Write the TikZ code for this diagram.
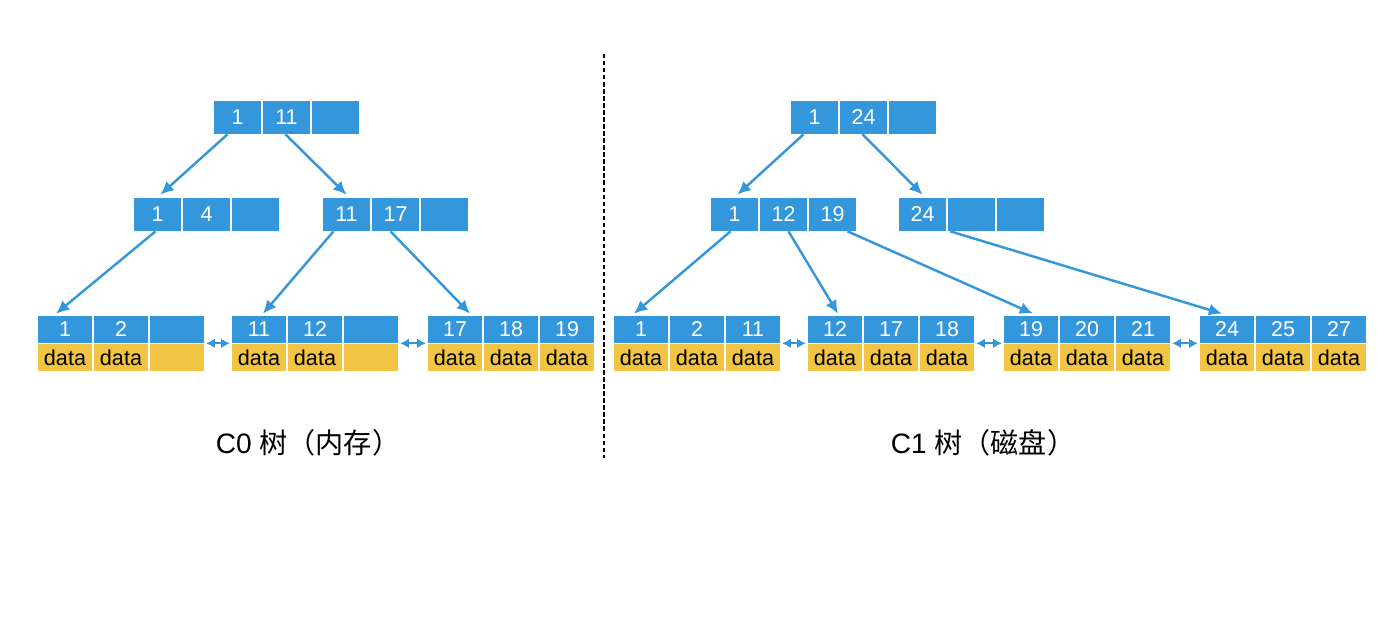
\documentclass[tikz,border=0pt]{standalone}
\usepackage{fontspec}
\setmainfont{Liberation Sans}
\newfontfamily\cjkfont{Noto Sans CJK SC}
\usepackage{xcolor}
\usetikzlibrary{arrows.meta, calc}
\definecolor{keyblue}{HTML}{3597DB}
\definecolor{datayellow}{HTML}{F2C443}

\begin{document}
\begin{tikzpicture}[
    x=0.02cm, y=-0.02cm,
    inner cell/.style={fill=keyblue, text=white, minimum width=0.94cm, minimum height=0.66cm, inner sep=0pt, font=\fontsize{12.2}{14}\selectfont},
    leaf key/.style={fill=keyblue, text=white, minimum width=1.08cm, minimum height=0.54cm, inner sep=0pt, font=\fontsize{12.2}{14}\selectfont},
    leaf data/.style={fill=datayellow, text=black, minimum width=1.08cm, minimum height=0.54cm, inner sep=0pt, font=\fontsize{12.3}{14}\selectfont},
    tree arrow/.style={draw=keyblue, line width=1.4pt, -{Latex[length=7.5pt,width=7pt]}},
    leaf link/.style={draw=keyblue, line width=1.3pt, {Latex[length=5pt,width=5.5pt]}-{Latex[length=5pt,width=5.5pt]}, shorten <=1pt, shorten >=1pt},
    separator/.style={draw=black, line width=1.1pt, dash pattern=on 2.5pt off 1.5pt},
    tree label/.style={font=\fontsize{16}{19}\selectfont}
]
    \useasboundingbox (0,0) rectangle (1400,628);

    % C0 - raiz
    \node[inner cell] (mr1) at (237.5,117.5) {1};
    \node[inner cell] (mr2) at (286.5,117.5) {11};
    \node[inner cell] (mr3) at (335.5,117.5) {};

    % C0 - nivel 1
    \node[inner cell] (mi1) at (157.5,214.5) {1};
    \node[inner cell] (mi2) at (206.5,214.5) {4};
    \node[inner cell] (mi3) at (255.5,214.5) {};
    \node[inner cell] (mj1) at (346.5,214.5) {11};
    \node[inner cell] (mj2) at (395.5,214.5) {17};
    \node[inner cell] (mj3) at (444.5,214.5) {};

    % C0 - hojas
    \node[leaf key] (mak1) at (65,329.5) {1};
    \node[leaf key] (mak2) at (121,329.5) {2};
    \node[leaf key] (mak3) at (177,329.5) {};
    \node[leaf data] (mad1) at (65,357.5) {data};
    \node[leaf data] (mad2) at (121,357.5) {data};
    \node[leaf data] (mad3) at (177,357.5) {};

    \node[leaf key] (mbk1) at (259,329.5) {11};
    \node[leaf key] (mbk2) at (315,329.5) {12};
    \node[leaf key] (mbk3) at (371,329.5) {};
    \node[leaf data] (mbd1) at (259,357.5) {data};
    \node[leaf data] (mbd2) at (315,357.5) {data};
    \node[leaf data] (mbd3) at (371,357.5) {};

    \node[leaf key] (mck1) at (455,329.5) {17};
    \node[leaf key] (mck2) at (511,329.5) {18};
    \node[leaf key] (mck3) at (567,329.5) {19};
    \node[leaf data] (mcd1) at (455,357.5) {data};
    \node[leaf data] (mcd2) at (511,357.5) {data};
    \node[leaf data] (mcd3) at (567,357.5) {data};

    % C1 - raiz
    \node[inner cell] (dr1) at (814.5,117.5) {1};
    \node[inner cell] (dr2) at (863.5,117.5) {24};
    \node[inner cell] (dr3) at (912.5,117.5) {};

    % C1 - nivel 1
    \node[inner cell] (di1) at (734.5,214.5) {1};
    \node[inner cell] (di2) at (783.5,214.5) {12};
    \node[inner cell] (di3) at (832.5,214.5) {19};
    \node[inner cell] (dj1) at (922.5,214.5) {24};
    \node[inner cell] (dj2) at (971.5,214.5) {};
    \node[inner cell] (dj3) at (1020.5,214.5) {};

    % C1 - hojas
    \node[leaf key] (dak1) at (641,329.5) {1};
    \node[leaf key] (dak2) at (697,329.5) {2};
    \node[leaf key] (dak3) at (753,329.5) {11};
    \node[leaf data] (dad1) at (641,357.5) {data};
    \node[leaf data] (dad2) at (697,357.5) {data};
    \node[leaf data] (dad3) at (753,357.5) {data};

    \node[leaf key] (dbk1) at (835,329.5) {12};
    \node[leaf key] (dbk2) at (891,329.5) {17};
    \node[leaf key] (dbk3) at (947,329.5) {18};
    \node[leaf data] (dbd1) at (835,357.5) {data};
    \node[leaf data] (dbd2) at (891,357.5) {data};
    \node[leaf data] (dbd3) at (947,357.5) {data};

    \node[leaf key] (dck1) at (1031,329.5) {19};
    \node[leaf key] (dck2) at (1087,329.5) {20};
    \node[leaf key] (dck3) at (1143,329.5) {21};
    \node[leaf data] (dcd1) at (1031,357.5) {data};
    \node[leaf data] (dcd2) at (1087,357.5) {data};
    \node[leaf data] (dcd3) at (1143,357.5) {data};

    \node[leaf key] (ddk1) at (1227,329.5) {24};
    \node[leaf key] (ddk2) at (1283,329.5) {25};
    \node[leaf key] (ddk3) at (1339,329.5) {27};
    \node[leaf data] (ddd1) at (1227,357.5) {data};
    \node[leaf data] (ddd2) at (1283,357.5) {data};
    \node[leaf data] (ddd3) at (1339,357.5) {data};

    % Punteros C0
    \draw[tree arrow] ($(mr1.south)+(-10,0)$) -- ($(mi1.north)+(3,-3)$);
    \draw[tree arrow] ($(mr2.south)+(-1,0)$) -- ($(mj1.north)+(0,-3)$);
    \draw[tree arrow] ($(mi1.south)+(-2,0)$) -- ($(mak1.north)+(-9,-2)$);
    \draw[tree arrow] ($(mj1.south)+(-13,0)$) -- ($(mbk1.north)+(4,-2)$);
    \draw[tree arrow] ($(mj2.south)+(-5,0)$) -- ($(mck1.north)+(15,-2)$);

    % Punteros C1
    \draw[tree arrow] ($(dr1.south)+(-11,0)$) -- ($(di1.north)+(3,-3)$);
    \draw[tree arrow] ($(dr2.south)+(-1,0)$) -- ($(dj1.north)+(0,-3)$);
    \draw[tree arrow] ($(di1.south)+(-4,0)$) -- ($(dak1.north)+(-7,-2)$);
    \draw[tree arrow] ($(di2.south)+(5,0)$) -- ($(dbk1.north)+(3,-2)$);
    \draw[tree arrow] ($(di3.south)+(15,0)$) -- ($(dck1.north)+(2,-2)$);
    \draw[tree arrow] ($(dj1.south east)+(4,0)$) -- ($(ddk1.north)+(-5,-2)$);

    % Enlaces entre hojas
    \draw[leaf link] (mak3.south east) -- (mbk1.south west);
    \draw[leaf link] (mbk3.south east) -- (mck1.south west);
    \draw[leaf link] (dak3.south east) -- (dbk1.south west);
    \draw[leaf link] (dbk3.south east) -- (dck1.south west);
    \draw[leaf link] (dck3.south east) -- (ddk1.south west);

    % Separador y rotulos
    \coordinate (septop) at (604,54);
    \coordinate (sepbot) at (604,458);
    \draw[separator] (septop) -- (sepbot);
    \node[tree label] (mlabel) at (308,443) {C0 {\cjkfont 树（内存）}};
    \node[tree label] (dlabel) at (983,443) {C1 {\cjkfont 树（磁盘）}};
\end{tikzpicture}
\end{document}
